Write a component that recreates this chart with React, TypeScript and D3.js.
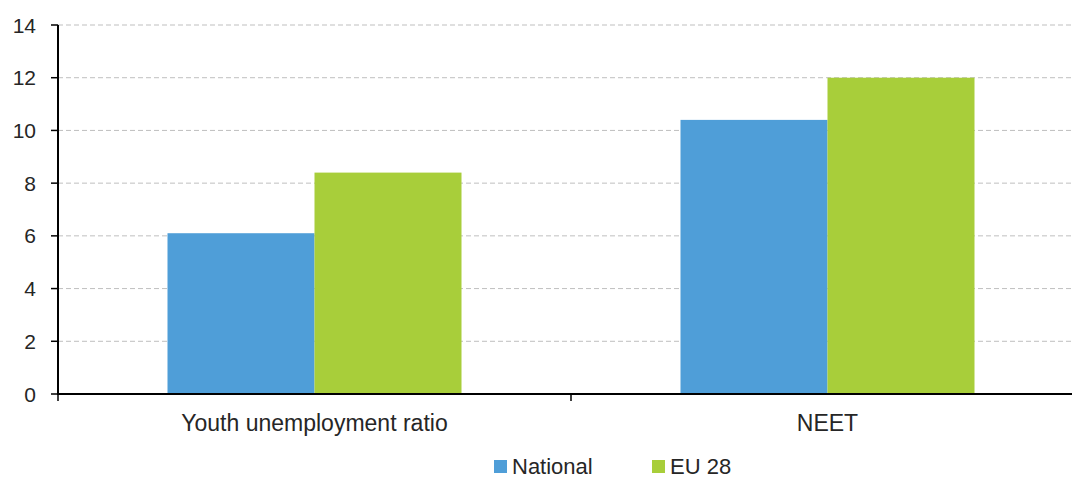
import React from "react";
import * as d3 from "d3";

const categories = ["Youth unemployment ratio", "NEET"];
const seriesNames = ["National", "EU 28"];
const nationalValues = [6.1, 10.4];
const eu28Values = [8.4, 12.0];
const yTicks = [0, 2, 4, 6, 8, 10, 12, 14];

const colors = ["#4F9ED8", "#A8CE3A"];
const W = 1072;
const H = 479;
const left = 58;
const right = 1084;
const top = 25;
const bottom = 394;
const font = "'Liberation Sans', Arial, sans-serif";
const textColor = "#262626";

export default function App() {
  const x = d3.scaleBand<string>().domain(categories).range([left, right]).paddingInner(0).paddingOuter(0);
  const inner = d3.scaleBand<string>().domain(seriesNames).range([0, 294]);
  const y = d3.scaleLinear().domain([0, 14]).range([bottom, top]);
  const series = [nationalValues, eu28Values];
  const barOffset = (x.bandwidth() - 294) / 2;
  const boundaries = [left, ...categories.map((c) => (x(c) as number) + x.bandwidth())];

  return (
    <svg width={W} height={H} style={{ position: "absolute", left: 0, top: 0 }}>
      <rect width={W} height={H} fill="#fff" />
      {yTicks.filter((t) => t > 0).map((t) => (
        <line key={"g" + t} x1={left} x2={W} y1={y(t)} y2={y(t)} stroke="#BFBFBF" strokeWidth={1} strokeDasharray="5,3" />
      ))}
      {categories.map((c, ci) =>
        seriesNames.map((s, si) => (
          <rect
            key={c + s}
            x={(x(c) as number) + barOffset + (inner(s) as number)}
            y={y(series[si][ci])}
            width={inner.bandwidth()}
            height={y(0) - y(series[si][ci])}
            fill={colors[si]}
          />
        ))
      )}
      <line x1={left} x2={left} y1={top} y2={bottom} stroke="#000" strokeWidth={2} />
      {yTicks.map((t) => (
        <g key={"t" + t}>
          <line x1={51} x2={left} y1={y(t)} y2={y(t)} stroke="#000" strokeWidth={1.5} />
          <text x={36} y={y(t)} dy="0.36em" textAnchor="end" fontFamily={font} fontSize={21} fill={textColor}>
            {t}
          </text>
        </g>
      ))}
      <line x1={left - 1} x2={W} y1={bottom} y2={bottom} stroke="#000" strokeWidth={2} />
      {boundaries.map((b, i) => (
        <line key={"xt" + i} x1={b} x2={b} y1={bottom} y2={bottom + 7} stroke="#000" strokeWidth={1.5} />
      ))}
      {categories.map((c) => (
        <text key={"c" + c} x={(x(c) as number) + x.bandwidth() / 2} y={431} textAnchor="middle" fontFamily={font} fontSize={23} fill={textColor}>
          {c}
        </text>
      ))}
      {seriesNames.map((s, i) => {
        const lx = [494, 652][i];
        return (
          <g key={"l" + s}>
            <rect x={lx} y={460} width={13} height={13} fill={colors[i]} />
            <text x={lx + 18} y={474} fontFamily={font} fontSize={22} fill={textColor}>
              {s}
            </text>
          </g>
        );
      })}
    </svg>
  );
}
